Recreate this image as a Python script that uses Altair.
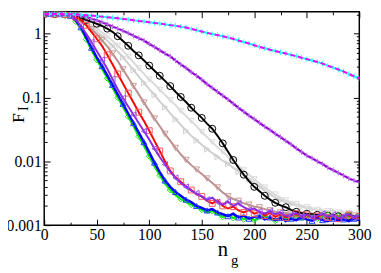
import altair as alt
import pandas as pd

x_vals = list(range(0, 301, 5))

cyan = [2.03, 2.03, 2.03, 2.03, 2.02, 2.02, 2.00, 1.98, 1.95, 1.92,
        1.88, 1.85, 1.81, 1.78, 1.74, 1.70, 1.67, 1.62, 1.58, 1.55,
        1.51, 1.47, 1.44, 1.40, 1.36, 1.33, 1.29, 1.25, 1.19, 1.13,
        1.08, 1.03, 0.99, 0.95, 0.91, 0.87, 0.83, 0.78, 0.74, 0.70,
        0.66, 0.62, 0.59, 0.56, 0.535, 0.51, 0.49, 0.465, 0.445, 0.42,
        0.40, 0.38, 0.36, 0.34, 0.315, 0.295, 0.275, 0.255, 0.235, 0.215,
        0.20]

darkviolet = [2.03, 2.03, 2.03, 2.02, 2.00, 1.97, 1.95, 1.91, 1.82, 1.72,
              1.62, 1.51, 1.40, 1.30, 1.20, 1.11, 1.02, 0.93, 0.85, 0.78,
              0.69, 0.62, 0.55, 0.49, 0.44, 0.38, 0.33, 0.29, 0.25, 0.22,
              0.19, 0.162, 0.141, 0.123, 0.107, 0.093, 0.080, 0.069, 0.060, 0.052,
              0.046, 0.040, 0.035, 0.031, 0.027, 0.024, 0.021, 0.0185, 0.016, 0.0140,
              0.0123, 0.0112, 0.0100, 0.0091, 0.0080, 0.0073, 0.0066, 0.0060, 0.0054, 0.0050,
              0.0047]

black = [2.03, 2.03, 2.03, 2.02, 2.00, 1.95, 1.86, 1.76, 1.64, 1.53,
         1.43, 1.32, 1.20, 1.07, 0.912, 0.767, 0.646, 0.537, 0.457, 0.380,
         0.316, 0.263, 0.219, 0.182, 0.151, 0.123, 0.102, 0.0851, 0.0692, 0.0575,
         0.0479, 0.0389, 0.0324, 0.0251, 0.0191, 0.0141, 0.0105, 0.00794, 0.00617, 0.00490,
         0.00398, 0.00339, 0.00288, 0.00251, 0.00224, 0.00204, 0.00191, 0.00174, 0.00162, 0.00155,
         0.00151, 0.00148, 0.00145, 0.00148, 0.00141, 0.00145, 0.00138, 0.00141, 0.00138, 0.00138,
         0.00135]

gray1 = [2.03, 2.03, 2.03, 2.00, 1.95, 1.91, 1.80, 1.66, 1.51, 1.35,
         1.20, 1.05, 0.912, 0.776, 0.646, 0.537, 0.437, 0.355, 0.288, 0.234,
         0.191, 0.162, 0.132, 0.110, 0.0912, 0.0759, 0.0617, 0.0513, 0.0427, 0.0355,
         0.0288, 0.0240, 0.0200, 0.0166, 0.0141, 0.0117, 0.0100, 0.00851, 0.00724, 0.00617,
         0.00525, 0.00447, 0.00389, 0.00339, 0.00302, 0.00269, 0.00245, 0.00229, 0.00214, 0.00200,
         0.00191, 0.00182, 0.00174, 0.00170, 0.00166, 0.00162, 0.00158, 0.00158, 0.00155, 0.00151,
         0.00151]

gray2 = [2.03, 2.03, 2.03, 2.00, 1.95, 1.86, 1.74, 1.58, 1.41, 1.23,
         1.07, 0.912, 0.776, 0.646, 0.525, 0.427, 0.339, 0.269, 0.214, 0.170,
         0.135, 0.110, 0.0871, 0.0708, 0.0562, 0.0457, 0.0372, 0.0302, 0.0251, 0.0214,
         0.0182, 0.0155, 0.0135, 0.0117, 0.0102, 0.00912, 0.00794, 0.00692, 0.00603, 0.00525,
         0.00457, 0.00398, 0.00347, 0.00302, 0.00269, 0.00245, 0.00229, 0.00214, 0.00204, 0.00195,
         0.00186, 0.00178, 0.00174, 0.00166, 0.00162, 0.00166, 0.00158, 0.00155, 0.00158, 0.00151,
         0.00155]

rosybrown = [2.03, 2.03, 2.03, 2.02, 2.00, 1.91, 1.78, 1.58, 1.38, 1.17,
             0.977, 0.794, 0.631, 0.490, 0.372, 0.275, 0.204, 0.151, 0.112, 0.0832,
             0.0617, 0.0468, 0.0355, 0.0269, 0.0209, 0.0162, 0.0129, 0.0105, 0.00871, 0.00741,
             0.00631, 0.00537, 0.00457, 0.00389, 0.00324, 0.00282, 0.00257, 0.00240, 0.00219, 0.00209,
             0.00195, 0.00190, 0.00178, 0.00170, 0.00162, 0.00158, 0.00155, 0.00151, 0.00148, 0.00145,
             0.00145, 0.00141, 0.00138, 0.00141, 0.00135, 0.00135, 0.00132, 0.00132, 0.00132, 0.00129,
             0.00129]

red = [2.03, 2.03, 2.03, 2.02, 2.00, 1.95, 1.82, 1.62, 1.35, 1.07,
       0.832, 0.646, 0.468, 0.331, 0.234, 0.166, 0.117, 0.0832, 0.0589, 0.0427,
       0.0302, 0.0209, 0.0145, 0.0100, 0.00708, 0.00562, 0.00479, 0.00407, 0.00355, 0.00302,
       0.00282, 0.00240, 0.00219, 0.00245, 0.00200, 0.00182, 0.00195, 0.00170, 0.00158, 0.00174,
       0.00151, 0.00162, 0.00141, 0.00155, 0.00135, 0.00148, 0.00132, 0.00141, 0.00151, 0.00135,
       0.00145, 0.00129, 0.00138, 0.00148, 0.00132, 0.00141, 0.00126, 0.00135, 0.00145, 0.00129,
       0.00138]

blueviolet = [2.03, 2.03, 2.03, 2.02, 2.00, 1.91, 1.66, 1.32, 1.00, 0.741,
              0.537, 0.389, 0.282, 0.195, 0.135, 0.0977, 0.0724, 0.0537, 0.0398, 0.0295,
              0.0219, 0.0158, 0.0117, 0.00891, 0.00692, 0.00550, 0.00457, 0.00398, 0.00347, 0.00316,
              0.00282, 0.00251, 0.00269, 0.00229, 0.00209, 0.00234, 0.00200, 0.00219, 0.00191, 0.00174,
              0.00182, 0.00162, 0.00151, 0.00166, 0.00148, 0.00158, 0.00138, 0.00145, 0.00155, 0.00138,
              0.00148, 0.00132, 0.00141, 0.00151, 0.00135, 0.00145, 0.00129, 0.00138, 0.00148, 0.00132,
              0.00141]

blue = [2.03, 2.03, 2.03, 2.02, 2.00, 1.91, 1.62, 1.26, 0.871, 0.603,
        0.427, 0.309, 0.224, 0.158, 0.112, 0.0794, 0.0562, 0.0398, 0.0282, 0.0200,
        0.0138, 0.00955, 0.00676, 0.00501, 0.00398, 0.00331, 0.00288, 0.00251, 0.00229, 0.00200,
        0.00186, 0.00170, 0.00178, 0.00158, 0.00148, 0.00138, 0.00151, 0.00132, 0.00141, 0.00126,
        0.00135, 0.00138, 0.00123, 0.00132, 0.00120, 0.00129, 0.00117, 0.00126, 0.00120, 0.00132,
        0.00123, 0.00117, 0.00129, 0.00120, 0.00115, 0.00126, 0.00117, 0.00123, 0.00115, 0.00126,
        0.00120]

green = [2.03, 2.03, 2.03, 2.02, 2.00, 1.86, 1.55, 1.17, 0.813, 0.550,
         0.389, 0.282, 0.200, 0.141, 0.100, 0.0708, 0.0501, 0.0355, 0.0245, 0.0174,
         0.0120, 0.00832, 0.00603, 0.00447, 0.00355, 0.00295, 0.00257, 0.00229, 0.00209, 0.00191,
         0.00174, 0.00158, 0.00166, 0.00148, 0.00135, 0.00145, 0.00129, 0.00138, 0.00123, 0.00132,
         0.00120, 0.00129, 0.00138, 0.00126, 0.00117, 0.00135, 0.00123, 0.00129, 0.00138, 0.00123,
         0.00132, 0.00141, 0.00126, 0.00135, 0.00145, 0.00129, 0.00138, 0.00132, 0.00141, 0.00132,
         0.00138]

x_major = [0, 50, 100, 150, 200, 250, 300]
x_minor = [25, 75, 125, 175, 225, 275]
y_major = [0.001, 0.01, 0.1, 1]
y_minor = [0.002, 0.003, 0.004, 0.005, 0.006, 0.007, 0.008, 0.009,
           0.02, 0.03, 0.04, 0.05, 0.06, 0.07, 0.08, 0.09,
           0.2, 0.3, 0.4, 0.5, 0.6, 0.7, 0.8, 0.9, 2]

series = {
    "cyan": cyan, "darkviolet": darkviolet, "black": black, "gray1": gray1,
    "gray2": gray2, "rosybrown": rosybrown, "red": red, "blueviolet": blueviolet,
    "blue": blue, "green": green,
}
rows = []
for name, vals in series.items():
    for xv, yv in zip(x_vals, vals):
        rows.append({"x": xv, "y": yv, "s": name})
df = pd.DataFrame(rows)

W, H = 322, 218
FONT = "Liberation Serif"
xs = alt.Scale(domain=[0, 300], nice=False, zero=False)
ys = alt.Scale(type="log", domain=[0.001, 2.2], nice=False)
PLUS = "M-1,0L1,0M0,-1L0,1"


def enc(xaxis=None, yaxis=None):
    return dict(
        x=alt.X("x:Q", scale=xs, axis=xaxis),
        y=alt.Y("y:Q", scale=ys, axis=yaxis),
    )


def line(name, color, width=2.0, dash=None):
    kw = dict(color=color, strokeWidth=width, clip=True)
    if dash:
        kw["strokeDash"] = dash
    return (alt.Chart(df).mark_line(**kw)
            .transform_filter(f"datum.s == '{name}'")
            .encode(**enc()))


def pts(name, color, shape, size, every=10, rem=0, sw=1.0):
    return (alt.Chart(df)
            .mark_point(shape=shape, size=size, color=color, filled=False,
                        strokeWidth=sw, opacity=1, clip=True)
            .transform_filter(f"datum.s == '{name}' && datum.x % {every} == {rem}")
            .encode(**enc()))


common = dict(domain=False, grid=False, tickColor="black", tickWidth=1,
              labelFont=FONT, labelColor="black", labelFlush=False,
              labelOverlap=False, labelBound=False, titleFont=FONT,
              titleFontWeight="normal", titleColor="black")

axA = alt.Chart(df).transform_filter("datum.s == 'cyan'").mark_point(opacity=0).encode(**enc(
    alt.Axis(orient="bottom", values=x_major, tickSize=6, offset=-6, labelFontSize=16,
             labelPadding=2, format="d", title="n", titleFontSize=21,
             titleX=182, titleY=37, titleAlign="center", titleBaseline="alphabetic", **common),
    alt.Axis(orient="left", values=y_major, tickSize=6, offset=-6, labelFontSize=16,
             labelPadding=3, format="~g", title="F", titleFontSize=18, titleAngle=270,
             titleX=-27, titleY=108, titleAlign="center", titleBaseline="alphabetic", **common),
))
axB = alt.Chart(df).transform_filter("datum.s == 'cyan'").mark_point(opacity=0).encode(**enc(
    alt.Axis(orient="bottom", values=x_minor, tickSize=3, offset=-3, labels=False,
             title="g", titleFontSize=15, titleX=194, titleY=43, titleAlign="center",
             titleBaseline="alphabetic", **common),
    alt.Axis(orient="left", values=y_minor, tickSize=3, offset=-3, labels=False,
             title="I", titleFontSize=14, titleAngle=270, titleX=-20, titleY=98.5,
             titleAlign="center", titleBaseline="alphabetic", **common),
))
axC = alt.Chart(df).transform_filter("datum.s == 'cyan'").mark_point(opacity=0).encode(**enc(
    alt.Axis(orient="top", values=x_major, tickSize=6, offset=-6, labels=False, title="", **common),
    alt.Axis(orient="right", values=y_major, tickSize=6, offset=-6, labels=False, title="", **common),
))
axD = alt.Chart(df).transform_filter("datum.s == 'cyan'").mark_point(opacity=0).encode(**enc(
    alt.Axis(orient="top", values=x_minor, tickSize=3, offset=-3, labels=False, title="", **common),
    alt.Axis(orient="right", values=y_minor, tickSize=3, offset=-3, labels=False, title="", **common),
))

layers = [
    axA, axB, axC, axD,
    line("gray2", "#cfcfcf"), pts("gray2", "#cfcfcf", "triangle-right", 36, rem=5),
    line("gray1", "#dadada"), pts("gray1", "#dadada", "triangle-down", 36, rem=0),
    line("rosybrown", "#bc8f8f"), pts("rosybrown", "#c89a9a", "triangle-down", 40, rem=5),
    line("black", "black"), pts("black", "black", "circle", 50, rem=0),
    line("green", "#00ee00"), pts("green", "#22dd22", "diamond", 36, rem=0),
    line("blue", "#0000ff", 2.5), pts("blue", "#2040ff", "triangle-up", 36, rem=5),
    line("red", "#ff0000"), pts("red", "#ff5a5a", "square", 36, rem=0),
    line("blueviolet", "#8a2be2"), pts("blueviolet", "#9a50e8", "triangle-left", 36, rem=5),
    line("darkviolet", "#9400d3", 2.2), pts("darkviolet", "#b56ae6", PLUS, 30, every=5, rem=0),
    line("cyan", "#00ffff", 2.0), pts("cyan", "#33ffff", PLUS, 30, every=5, rem=0),
    line("cyan", "#ff00ff", 2.0, dash=[5, 3]),
]

chart = (alt.layer(*layers)
         .resolve_axis(x="independent", y="independent")
         .properties(width=W, height=H,
                     autosize=alt.AutoSizeParams(type="none"),
                     padding={"left": 37, "top": 1, "right": 14, "bottom": 46},
                     background="white")
         .configure(font=FONT)
         .configure_view(stroke="black", strokeWidth=1.5))

chart.save("out.html", embed_options={"renderer": "svg", "actions": False})
